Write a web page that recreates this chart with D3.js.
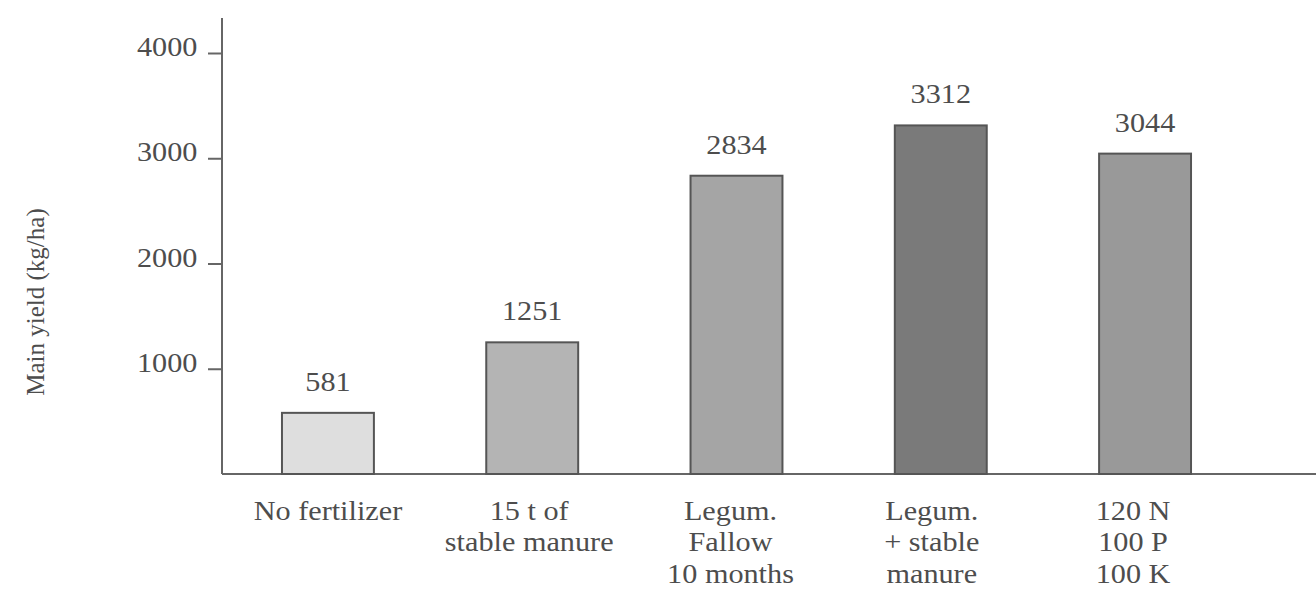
<!DOCTYPE html>
<html>
<head>
<meta charset="utf-8">
<script src="https://cdn.jsdelivr.net/npm/d3@7"></script>
<style>
  body { margin: 0; background: #fff; }
  text { font-family: "Liberation Serif", "DejaVu Serif", serif; fill: #4d4d4d; }
</style>
</head>
<body>
<svg id="chart"></svg>
<script>
// data
const categories = ["No fertilizer", "15 t of stable manure", "Legum. Fallow 10 months", "Legum. + stable manure", "120 N 100 P 100 K"];
const labelLines = [
  ["No fertilizer"],
  ["15 t of", "stable manure"],
  ["Legum.", "Fallow", "10 months"],
  ["Legum.", "+ stable", "manure"],
  ["120 N", "100 P", "100 K"]
];
const yields = [581, 1251, 2834, 3312, 3044];
const yTicks = [1000, 2000, 3000, 4000];
const barFills = ["#dedede", "#b4b4b4", "#a5a5a5", "#7a7a7a", "#999999"];

const width = 1316, height = 590;
const margin = { left: 222, right: 69 };
const stretch = 1.12; // the printed type is a bit wide

const svg = d3.select("#chart")
    .attr("width", width)
    .attr("height", height);

const xScale = d3.scaleBand()
    .domain(categories)
    .range([226, width - margin.right])
    .paddingInner(0.55)
    .paddingOuter(0.274);

const yScale = d3.scaleLinear()
    .domain([0, 4000])
    .range([474, 53]);

// y axis
const yAxis = d3.axisLeft(yScale)
    .tickValues(yTicks)
    .tickSize(14)
    .tickSizeOuter(0)
    .tickPadding(8)
    .tickFormat(d3.format("d"));

const yAxisG = svg.append("g")
    .attr("transform", `translate(${margin.left},0)`)
    .call(yAxis);
yAxisG.select(".domain").remove();
yAxisG.selectAll(".tick line").attr("stroke", "#666").attr("stroke-width", 2);
yAxisG.selectAll(".tick text")
    .attr("font-size", 27)
    .attr("dy", "0.1em")
    .attr("transform", `scale(${stretch},1)`)
    .style("font-family", "Liberation Serif, serif")
    .attr("fill", "#555");

// axis lines
svg.append("line")
    .attr("x1", margin.left).attr("x2", margin.left)
    .attr("y1", 18).attr("y2", yScale(0))
    .attr("stroke", "#666").attr("stroke-width", 2);
svg.append("line")
    .attr("x1", margin.left).attr("x2", width)
    .attr("y1", yScale(0)).attr("y2", yScale(0))
    .attr("stroke", "#666").attr("stroke-width", 2);

// bars
svg.selectAll("rect.bar")
    .data(yields)
    .join("rect")
    .attr("class", "bar")
    .attr("x", (d, i) => xScale(categories[i]))
    .attr("width", xScale.bandwidth())
    .attr("y", d => yScale(d))
    .attr("height", d => yScale(0) - yScale(d))
    .attr("fill", (d, i) => barFills[i])
    .attr("stroke", "#555")
    .attr("stroke-width", 2);

// value labels
svg.selectAll("text.value")
    .data(yields)
    .join("text")
    .attr("class", "value")
    .attr("transform", (d, i) => `translate(${xScale(categories[i]) + xScale.bandwidth() / 2},${yScale(d) - 22}) scale(${stretch},1)`)
    .attr("text-anchor", "middle")
    .attr("font-size", 27)
    .text(d => d);

// category labels
const catG = svg.selectAll("g.cat")
    .data(labelLines)
    .join("g")
    .attr("class", "cat")
    .attr("transform", (d, i) => `translate(${xScale(categories[i]) + xScale.bandwidth() / 2 - i * 3},520) scale(${stretch},1)`);

catG.selectAll("text")
    .data(d => d)
    .join("text")
    .attr("y", (d, i) => i * 31.5)
    .attr("text-anchor", "middle")
    .attr("font-size", 27)
    .text(d => d);

// y axis title
svg.append("text")
    .attr("transform", "translate(44,302) rotate(-90)")
    .attr("text-anchor", "middle")
    .attr("font-size", 25)
    .text("Main yield (kg/ha)");
</script>
</body>
</html>
